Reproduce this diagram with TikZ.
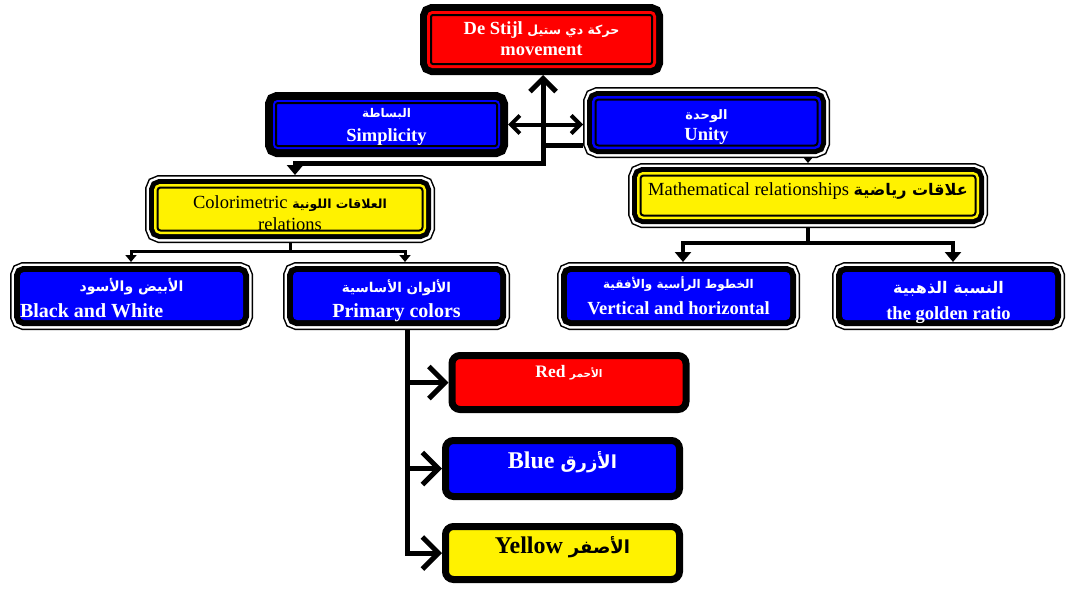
\documentclass[tikz,border=0pt]{standalone}
\usepackage{fontspec}
\setmainfont{Liberation Serif}
\newfontfamily\arabicfont[Script=Arabic]{DejaVu Sans}
\TeXXeTstate=1
\usetikzlibrary{arrows.meta}
\newcommand{\artxt}[2][14]{{\arabicfont\bfseries\fontsize{#1}{#1}\selectfont\beginR #2\endR}}
\tikzset{
  box/.style={align=center, inner sep=0pt, text=white, font=\bfseries\fontsize{18.5}{23}\selectfont},
  lift/.style 2 args={text height=#1, text depth=#2},
  topbox/.style={box, rounded corners=2pt, fill=red, draw=black, line width=2pt, outer sep=11pt,
    preaction={draw=black, line width=22pt}, preaction={draw=red, line width=8pt}},
  simbox/.style={box, rounded corners=2pt, fill=blue, draw=black, line width=2pt, outer sep=11pt,
    preaction={draw=black, line width=22pt}, preaction={draw=blue, line width=6pt}},
  ringbox/.style={box, rounded corners=3pt, fill=#1, draw=black, line width=2pt, outer sep=12.5pt,
    preaction={draw=black, line width=25pt}, preaction={draw=white, line width=22pt},
    preaction={draw=black, line width=17pt}, preaction={draw=#1, line width=7pt}},
  leafbox/.style={box, rounded corners=4pt, fill=blue, minimum height=48pt, outer sep=10pt,
    preaction={draw=black, line width=20pt}, preaction={draw=white, line width=17pt},
    preaction={draw=black, line width=12pt}},
  huebox/.style={box, rounded corners=8pt, fill=#1, draw=black, line width=7pt, minimum width=234pt},
  link/.style={draw=black, line width=5pt},
  bigbarb/.tip={Straight Barb[length=16pt, width=32pt]},
  topbarb/.tip={Straight Barb[length=13pt, width=26pt]},
  midbarb/.tip={Straight Barb[length=9pt, width=18pt]},
  bigwedge/.tip={Triangle[length=10pt, width=16pt]},
  midwedge/.tip={Triangle[length=7pt, width=11pt]},
  tinywedge/.tip={Triangle[length=5pt, width=8pt]}
}
\begin{document}
\begin{tikzpicture}[x=1pt,y=-1pt]
\useasboundingbox (0,0) rectangle (1070,590);
\node[topbox, minimum width=221pt, minimum height=49pt, lift={31pt}{0pt}, font=\bfseries\fontsize{18.5}{21}\selectfont] (stijl) at (541.5,39.5) {De Stijl \artxt[12.5]{حركة دي ستيل}\\movement};
\node[simbox, minimum width=221pt, minimum height=43pt, lift={34.4pt}{0pt}, font=\bfseries\fontsize{18.5}{24}\selectfont] (simp) at (386.5,124.5) {\artxt[12]{البساطة}\\Simplicity};
\node[ringbox=blue, minimum width=222pt, minimum height=46pt, lift={35pt}{0pt}, font=\bfseries\fontsize{18.5}{21}\selectfont] (unity) at (706.5,122.5) {\artxt[13]{الوحدة}\\Unity};
\node[ringbox=yellow, text=black, font=\fontsize{18.5}{22}\selectfont, minimum width=265pt, minimum height=43pt, lift={42pt}{0pt}] (color) at (290,209) {Colorimetric \artxt[12.5]{العلاقات اللونية}\\relations};
\node[ringbox=yellow, text=black, font=\fontsize{18.5}{23}\selectfont, minimum width=335pt, minimum height=40pt, lift={13pt}{14pt}] (math) at (808,195.5) {Mathematical relationships \artxt[16]{علاقات رياضية}};
\node[leafbox, align=left, minimum width=223pt, lift={42.6pt}{0pt}, font=\bfseries\fontsize{20}{25.5}\selectfont] (bw) at (131.5,296) {\makebox[223pt]{\artxt{الأبيض والأسود}}\\Black and White};
\node[leafbox, minimum width=207pt, lift={42.6pt}{0pt}, font=\bfseries\fontsize{20}{25}\selectfont] (prim) at (396.5,296) {\artxt[13.5]{الألوان الأساسية}\\Primary colors};
\node[leafbox, minimum width=223pt, lift={36pt}{0pt}, font=\bfseries\fontsize{18.5}{26}\selectfont] (vert) at (678.5,296) {\artxt[12]{الخطوط الرأسية والأفقية}\\Vertical and horizontal};
\node[leafbox, minimum width=213pt, lift={46pt}{0pt}, font=\bfseries\fontsize{18.5}{26}\selectfont] (gold) at (948.5,296) {\artxt[16]{النسبة الذهبية}\\the golden ratio};
\node[huebox=red, minimum height=54pt, text depth=22pt, font=\bfseries\fontsize{17.5}{21}\selectfont] (red) at (569,382.5) {Red \artxt[10.5]{الأحمر}};
\node[huebox=blue, minimum height=56pt, text depth=18pt, font=\bfseries\fontsize{24}{28}\selectfont] (blu) at (562.5,468.5) {Blue \artxt[18]{الأزرق}};
\node[huebox=yellow, text=black, minimum height=53pt, text depth=16pt, font=\bfseries\fontsize{24}{28}\selectfont] (yel) at (562.5,553) {Yellow \artxt[18]{الأصفر}};
\coordinate (j1) at (543,163);
\coordinate (j2) at (295,163);
\coordinate (j3) at (543,145);
\coordinate (c1) at (131,251);
\coordinate (c2) at (405,251);
\coordinate (m1) at (683,243);
\coordinate (m2) at (953,243);
\coordinate (p1) at (407,380);
\draw[link, bigwedge-topbarb] (j2 |- color.north) -- (j2) -- (j1) -- (j1 |- stijl.south);
\draw[link] (j3) -- (j3 -| unity.west);
\draw[link, line width=4pt, midbarb-midbarb] (simp.east) -- (simp.east -| unity.west);
\draw[link, line width=2pt, -tinywedge] (unity.south -| math.north) -- (math.north);
\draw[link, line width=3pt] (color.south) -- (color.south |- c1);
\draw[link, line width=3pt, midwedge-midwedge] (c1 |- bw.north) -- (c1) -- (c2) -- (c2 |- prim.north);
\draw[link, line width=4pt] (math.south) -- (math.south |- m1);
\draw[link, line width=4pt, bigwedge-bigwedge] (m1 |- vert.north) -- (m1) -- (m2) -- (m2 |- gold.north);
\draw[link, -bigbarb] (prim.south -| p1) |- (yel.west);
\draw[link, -bigbarb] (p1 |- red.west) -- (red.west);
\draw[link, -bigbarb] (p1 |- blu.west) -- (blu.west);
\end{tikzpicture}
\end{document}
